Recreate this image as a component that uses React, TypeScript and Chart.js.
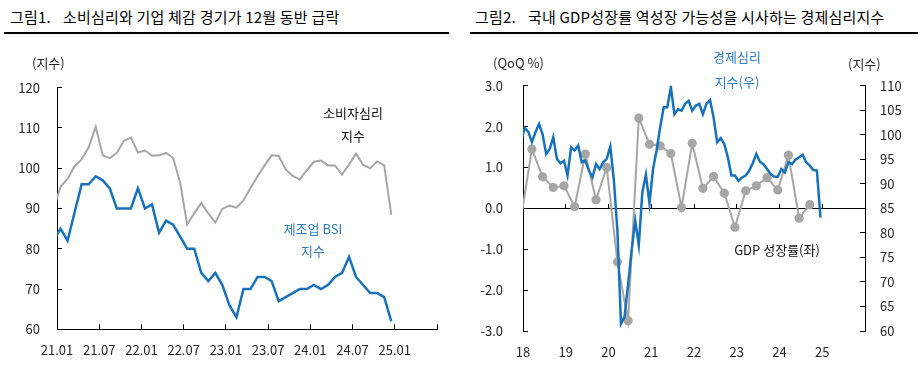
import React, { useEffect, useRef } from 'react';
import { Chart, registerables } from 'chart.js';

Chart.register(...registerables);

const FONT = "'Noto Sans CJK KR', 'Noto Sans', sans-serif";
const BLUE = '#1772bb';
const GRAY = '#a6a6a6';
const TEXT_BLUE = '#2e7cc4';

// ---------- Figure 1 : monthly, first value = 2020.12 ----------
const fig1FirstMonth = '20.12';
const consumerSentiment = [
  89.8,
  95.4, 97.4, 100.5, 102.2, 105.2, 110.3, 103.2, 102.5, 103.8, 106.8, 107.6, 103.9,
  104.4, 103.1, 103.2, 103.8, 102.6, 96.4, 86.0, 88.8, 91.4, 88.8, 86.5, 89.9,
  90.7, 90.2, 92.0, 95.1, 98.0, 100.7, 103.2, 103.1, 99.7, 98.1, 97.2, 99.5,
  101.6, 101.9, 100.7, 100.7, 98.4, 100.9, 103.6, 100.8, 100.0, 101.7, 100.7, 88.4,
];
const manufacturingBsi = [
  82,
  85, 82, 89, 96, 96, 98, 97, 95, 90, 90, 90, 95,
  90, 91, 84, 87, 86, 83, 80, 80, 74, 72, 74, 71,
  66, 63, 70, 70, 73, 73, 72, 67, 68, 69, 70, 70,
  71, 70, 71, 73, 74, 78, 73, 71, 69, 69, 68, 62,
];
const fig1TickLabels = ['21.01', '21.07', '22.01', '22.07', '23.01', '23.07', '24.01', '24.07', '25.01', ''];

// ---------- Figure 2 ----------
const esiFirstMonth = '2017.12';
const esiValues = [
  98.8,
  101.4, 100.6, 98.5, 100.5, 102.2, 100.1, 96.1, 97.1, 99.5, 95.1, 94.2, 94.7,
  91.7, 97.4, 96.8, 97.8, 94.4, 94.7, 92.7, 91.3, 94.0, 93.0, 94.4, 95.1,
  97.6, 90.8, 80.5, 61.5, 62.9, 69.5, 76.5, 82.5, 77.5, 88.3, 91.9, 86.0,
  93.0, 96.8, 101.5, 105.6, 105.6, 109.7, 104.2, 105.2, 104.9, 106.3, 106.9, 104.9,
  105.9, 106.3, 104.2, 106.3, 107.1, 103.5, 98.5, 99.3, 98.1, 95.4, 91.7, 91.7,
  90.6, 91.3, 91.7, 92.7, 94.2, 96.1, 94.5, 94.0, 93.0, 92.0, 91.5, 91.4,
  93.0, 92.3, 94.4, 94.0, 94.9, 95.4, 95.9, 94.4, 93.7, 92.8, 92.7, 83.1,
];
const gdpQuarters = [
  '17Q4',
  '18Q1', '18Q2', '18Q3', '18Q4',
  '19Q1', '19Q2', '19Q3', '19Q4',
  '20Q1', '20Q2', '20Q3', '20Q4',
  '21Q1', '21Q2', '21Q3', '21Q4',
  '22Q1', '22Q2', '22Q3', '22Q4',
  '23Q1', '23Q2', '23Q3', '23Q4',
  '24Q1', '24Q2', '24Q3',
];
const gdpGrowth = [
  -0.2,
  1.45, 0.77, 0.51, 0.55,
  0.04, 1.33, 0.21, 1.0,
  -1.31, -2.75, 2.21, 1.57,
  1.53, 1.34, 0.02, 1.59,
  0.49, 0.78, 0.37, -0.46,
  0.43, 0.55, 0.75, 0.45,
  1.3, -0.24, 0.09,
];
const fig2TickLabels = ['18', '19', '20', '21', '22', '23', '24', '25', ''];

// ---------- helpers ----------
function fig1Points(values: number[]) {
  const [yy, mm] = fig1FirstMonth.split('.').map(Number);
  const start = (yy - 21) * 12 + (mm - 1);
  return values.map((v, i) => ({ x: start + i + 0.5, y: v }));
}
function esiPoints() {
  const [y, m] = esiFirstMonth.split('.').map(Number);
  const start = y * 12 + (m - 1);
  return esiValues.map((v, i) => ({ x: (start + i + 0.5) / 12, y: v }));
}
function gdpPoints() {
  return gdpQuarters.map((q, i) => {
    const year = 2000 + Number(q.slice(0, 2));
    const qq = Number(q.slice(3));
    return { x: year + (3 * qq - 1 + 0.5) / 12, y: gdpGrowth[i] };
  });
}

const tickFont = { family: FONT, size: 13 };
const TICK_COLOR = '#262626';
const axisGrid = { display: true, drawOnChartArea: false, drawTicks: true, tickLength: -5, color: '#000', lineWidth: 1 };
const axisBorder = { display: true, color: '#000', width: 1 };

function fig1Config(): any {
  return {
    type: 'line',
    data: {
      datasets: [
        { data: fig1Points(manufacturingBsi), borderColor: BLUE, borderWidth: 2.5, pointRadius: 0, tension: 0, clip: 0 },
        { data: fig1Points(consumerSentiment), borderColor: GRAY, borderWidth: 2, pointRadius: 0, tension: 0, clip: 0 },
      ],
    },
    options: {
      responsive: false,
      animation: false,
      layout: { padding: { left: 12, right: 23, top: 47.7, bottom: 7.7 } },
      plugins: { legend: { display: false }, tooltip: { enabled: false } },
      scales: {
        x: {
          type: 'linear', min: 0, max: 54,
          ticks: { stepSize: 6, autoSkip: false, maxRotation: 0, font: tickFont, color: TICK_COLOR, padding: 18,
            callback: (_v: any, i: number) => fig1TickLabels[i] ?? '' },
          grid: axisGrid, border: axisBorder,
          afterFit: (s: any) => { s.height = 30; },
        },
        y: {
          min: 60, max: 120,
          ticks: { stepSize: 10, font: tickFont, color: TICK_COLOR, padding: 22 },
          grid: axisGrid, border: axisBorder,
          afterFit: (s: any) => { s.width = 45; },
        },
      },
    },
  };
}

function fig2Config(): any {
  return {
    type: 'line',
    data: {
      datasets: [
        { data: esiPoints(), xAxisID: 'x', yAxisID: 'y1', borderColor: BLUE, borderWidth: 2.5, pointRadius: 0, tension: 0, clip: 0 },
        { data: gdpPoints(), xAxisID: 'x', yAxisID: 'y', borderColor: GRAY, borderWidth: 2, tension: 0, clip: 0,
          pointRadius: (c: any) => (c.raw && c.raw.x < 2018 ? 0 : 4.6),
          pointBackgroundColor: GRAY, pointBorderWidth: 0 },
      ],
    },
    options: {
      responsive: false,
      animation: false,
      layout: { padding: { left: 13, right: 14, top: 45.7, bottom: 6 } },
      plugins: { legend: { display: false }, tooltip: { enabled: false } },
      scales: {
        x: {
          type: 'linear', min: 2018, max: 2026, position: { y: 0 },
          ticks: { display: false, stepSize: 1 },
          grid: axisGrid, border: axisBorder,
        },
        xb: {
          type: 'linear', min: 2018, max: 2026, position: 'bottom',
          ticks: { stepSize: 1, autoSkip: false, maxRotation: 0, font: tickFont, color: TICK_COLOR, padding: 13,
            callback: (_v: any, i: number) => fig2TickLabels[i] ?? '' },
          grid: { display: false, drawTicks: false }, border: { display: false },
          afterFit: (s: any) => { s.height = 30; },
        },
        y: {
          position: 'left', min: -3, max: 3,
          ticks: { stepSize: 1, font: tickFont, color: TICK_COLOR, padding: 25, callback: (v: any) => Number(v).toFixed(1) },
          grid: axisGrid, border: axisBorder,
          afterFit: (s: any) => { s.width = 50; },
        },
        y1: {
          position: 'right', min: 60, max: 110,
          ticks: { stepSize: 5, font: tickFont, color: TICK_COLOR, padding: 20 },
          grid: axisGrid, border: axisBorder,
          afterFit: (s: any) => { s.width = 45; },
        },
      },
    },
  };
}

function ChartCanvas({ make, left, top, width, height }: any) {
  const ref = useRef<HTMLCanvasElement>(null);
  useEffect(() => {
    const chart = new Chart(ref.current as HTMLCanvasElement, make());
    return () => chart.destroy();
  }, []);
  return (
    <canvas ref={ref} width={width} height={height}
      style={{ position: 'absolute', left, top, width, height, display: 'block' }} />
  );
}

function Txt({ x, y, children, color = '#111', size = 13, center = false, spacing = 0 }: any) {
  return (
    <div style={{
      position: 'absolute', left: x, top: y - 9, height: 18, lineHeight: '18px',
      fontFamily: FONT, fontSize: size, color, whiteSpace: 'nowrap', letterSpacing: spacing,
      transform: center ? 'translateX(-50%)' : undefined, zIndex: 2,
    }}>{children}</div>
  );
}

export default function App() {
  return (
    <div style={{ position: 'fixed', left: 0, top: 0, width: 924, height: 367, background: '#fff', overflow: 'hidden' }}>
      {/* titles */}
      <Txt x={10} y={17} size={15} spacing={0.2} color="#000">그림1.</Txt>
      <Txt x={63} y={17} size={15} spacing={0.2} color="#000">소비심리와 기업 체감 경기가 12월 동반 급락</Txt>
      <div style={{ position: 'absolute', left: 4, top: 32, width: 445, height: 1.5, background: '#000' }} />
      <Txt x={475} y={17} size={15} spacing={0.2} color="#000">그림2.</Txt>
      <Txt x={528} y={17} size={15} spacing={0.2} color="#000">국내 GDP성장률 역성장 가능성을 시사하는 경제심리지수</Txt>
      <div style={{ position: 'absolute', left: 470, top: 32, width: 448, height: 1.5, background: '#000' }} />

      <ChartCanvas make={fig1Config} left={0} top={40} width={460} height={327} />
      <ChartCanvas make={fig2Config} left={460} top={40} width={464} height={327} />

      {/* axis titles */}
      <Txt x={32} y={62.7} color="#262626">(지수)</Txt>
      <Txt x={493} y={62.7} color="#262626">(QoQ %)</Txt>
      <Txt x={848} y={64} color="#262626">(지수)</Txt>

      {/* annotations */}
      <Txt x={353} y={112.7} center>소비자심리</Txt>
      <Txt x={353} y={136} center>지수</Txt>
      <Txt x={313} y={229} center color={TEXT_BLUE}>제조업 BSI</Txt>
      <Txt x={313} y={250.7} center color={TEXT_BLUE}>지수</Txt>
      <Txt x={737} y={57} center color={TEXT_BLUE}>경제심리</Txt>
      <Txt x={737} y={81.7} center color={TEXT_BLUE}>지수(우)</Txt>
      <Txt x={777} y={250} center>GDP 성장률(좌)</Txt>
    </div>
  );
}
